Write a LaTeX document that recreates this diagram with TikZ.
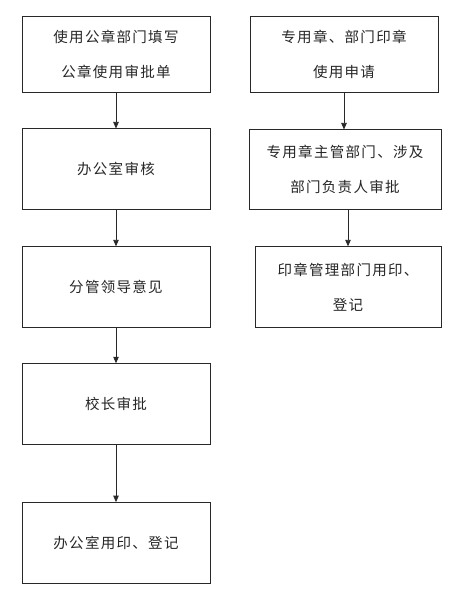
\documentclass[tikz,border=0pt]{standalone}
\usepackage{fontspec}
\newfontfamily\cjk[LetterSpace=9]{Noto Sans CJK SC}
\usetikzlibrary{arrows.meta,positioning}
\definecolor{LineGray}{RGB}{40,40,40}
\tikzset{
  stepbox/.style={draw=LineGray, line width=0.9pt, minimum width=188pt,
    minimum height=81pt, align=center, inner sep=0pt, text=black!85,
    font=\cjk\fontsize{14.5}{35}\selectfont},
  arrow/.style={-{Triangle[length=6.5pt,width=5.5pt]}, line width=0.8pt, LineGray}
}
\begin{document}
\begin{tikzpicture}[x=1pt,y=1pt,node distance=36pt]
  \useasboundingbox (0,0) rectangle (459,-612);
  % left column
  \node[stepbox, minimum height=76pt] (fillform) at (116,-54) {使用公章部门填写\\公章使用审批单};
  \node[stepbox, below=of fillform] (officecheck) {办公室审核};
  \node[stepbox, below=of officecheck] (leader) {分管领导意见};
  \node[stepbox, below=35pt of leader] (president) {校长审批};
  \node[stepbox, below=57pt of president] (officestamp) {办公室用印、登记};
  % right column
  \node[stepbox, minimum height=76pt] (apply) at (344,-54) {专用章、部门印章\\使用申请};
  \node[stepbox, minimum width=192pt, minimum height=80pt, below=37pt of apply, xshift=1pt] (dept) {专用章主管部门、涉及\\部门负责人审批};
  \node[stepbox, minimum width=186pt, below=36pt of dept, xshift=3pt] (sealstamp) {印章管理部门用印、\\登记};
  % arrows
  \draw[arrow] (fillform) -- (officecheck);
  \draw[arrow] (officecheck) -- (leader);
  \draw[arrow] (leader) -- (president);
  \draw[arrow] (president) -- (officestamp);
  \draw[arrow] (apply.south) -- (apply.south |- dept.north);
  \draw[arrow] (dept.south -| sealstamp) -- (sealstamp.north);
\end{tikzpicture}
\end{document}
